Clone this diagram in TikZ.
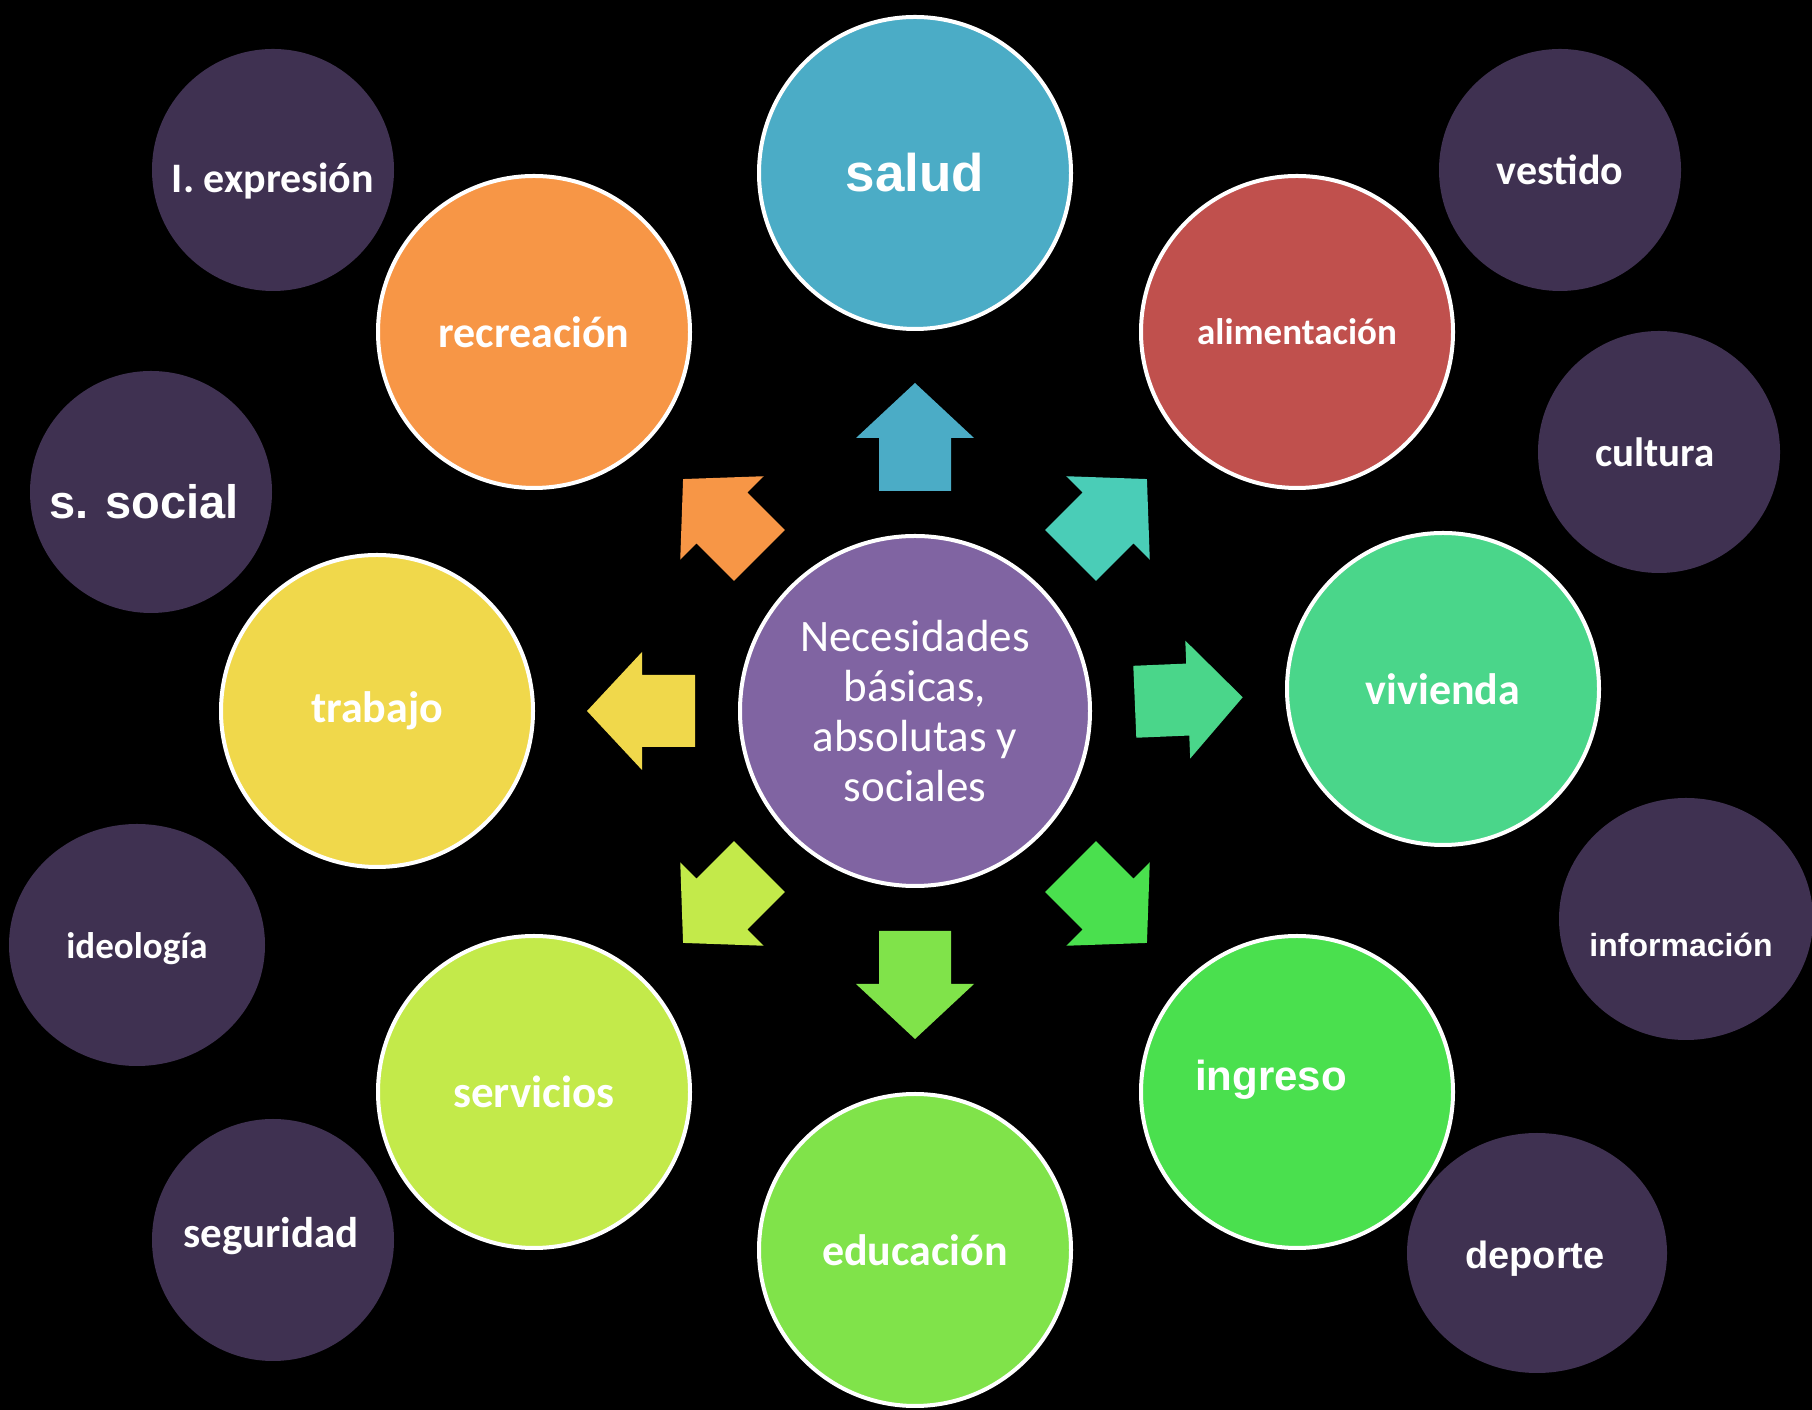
\documentclass[tikz,border=0pt]{standalone}
\usepackage{fontspec}
\newfontfamily\carlito{Carlito}
\newfontfamily\arialf{Liberation Sans}
\usetikzlibrary{shapes.geometric}
\definecolor{cSalud}{HTML}{4BACC6}
\definecolor{cAlim}{HTML}{C0504D}
\definecolor{cNE}{HTML}{4ACDB7}
\definecolor{cViv}{HTML}{4AD68A}
\definecolor{cIng}{HTML}{4AE04E}
\definecolor{cEdu}{HTML}{80E34A}
\definecolor{cServ}{HTML}{C3EA4A}
\definecolor{cTrab}{HTML}{F0D84B}
\definecolor{cRec}{HTML}{F79646}
\definecolor{cCen}{HTML}{8064A2}
\definecolor{cDark}{HTML}{3F3151}
\newcommand\cbf[1]{\carlito\bfseries\fontsize{#1}{#1}\selectfont}
\newcommand\abf[1]{\arialf\bfseries\fontsize{#1}{#1}\selectfont}
\tikzset{
  big/.style={circle, draw=white, line width=4pt, minimum size=312pt, inner sep=0pt, text=white},
  dark/.style={ellipse, fill=cDark, minimum width=242pt, minimum height=242pt, inner sep=0pt, text=white},
  lbl/.style={text=white, inner sep=0pt},
  barrow/.style={fill=#1},
}
\newcommand\blockarrow[3]{%
  \begin{scope}[shift={(#1)}, rotate=#2]
    \fill[barrow=#3] (220,-36) -- (273,-36) -- (273,-59) -- (328,0) -- (273,59) -- (273,36) -- (220,36) -- cycle;
  \end{scope}}
\begin{document}
\begin{tikzpicture}[x=1pt,y=1pt]
\useasboundingbox (0,0) rectangle (1812,1410);
\fill[black] (0,0) rectangle (1812,1410);
% dark outer circles
\node[dark] (expr) at (273,1240) {};
\node[lbl, font=\cbf{42}] (exprT) at (273,1229) {I. expresión};
\node[dark] (vest) at (1560,1240) {};
\node[lbl, font=\cbf{42}] at (vest.center) {vestido};
\node[dark] (cult) at (1659,958) {};
\node[lbl, font=\cbf{41}] (cultT) at (1655,958) {cultura};
\node[dark] (ssoc) at (151,918) {};
\node[lbl, font=\abf{47}] (ssocT) at (144,908) {s. social};
\node[dark, minimum width=256pt] (ideo) at (137,465) {};
\node[lbl, font=\cbf{37}] (ideoT) at (137,461) {ideología};
\node[dark, minimum width=254pt] (info) at (1686,491) {};
\node[lbl, font=\abf{32}] (infoT) at (1681,465) {información};
\node[dark] (segu) at (273,170) {};
\node[lbl, font=\cbf{43}] (seguT) at (271,174) {seguridad};
\node[dark, minimum width=260pt, minimum height=240pt] (depo) at (1537,157) {};
\node[lbl, font=\abf{38}] (depoT) at (1535,151) {deporte};
% main circles
\node[big, fill=cCen, minimum size=350pt, align=center, font=\carlito\fontsize{45}{50}\selectfont] (cen) at (915,699) {Necesidades\\básicas,\\absolutas y\\sociales};
\node[big, fill=cSalud, font=\abf{53}] (salud) at (915,1237) {salud};
\node[big, fill=cAlim, font=\cbf{37}] (alim) at (1297,1078) {alimentación};
\node[big, fill=cViv, font=\cbf{44}] (viv) at (1443,721) {vivienda};
\node[big, fill=cIng] (ing) at (1297,318) {};
\node[lbl, font=\abf{42}] (ingT) at (1271,330) {ingreso};
\node[big, fill=cEdu, font=\cbf{44}] (edu) at (915,160) {educación};
\node[big, fill=cServ, font=\cbf{45}] (serv) at (534,318) {servicios};
\node[big, fill=cTrab, font=\cbf{44}] (trab) at (377,699) {trabajo};
\node[big, fill=cRec, font=\cbf{44}] (rec) at (534,1078) {recreación};
% block arrows from centre toward each need
\blockarrow{cen.center}{90}{cSalud}
\blockarrow{cen.center}{45}{cNE}
\blockarrow{cen.center}{2.4}{cViv}
\blockarrow{cen.center}{-45}{cIng}
\blockarrow{cen.center}{-90}{cEdu}
\blockarrow{cen.center}{-135}{cServ}
\blockarrow{cen.center}{180}{cTrab}
\blockarrow{cen.center}{135}{cRec}
\end{tikzpicture}
\end{document}
